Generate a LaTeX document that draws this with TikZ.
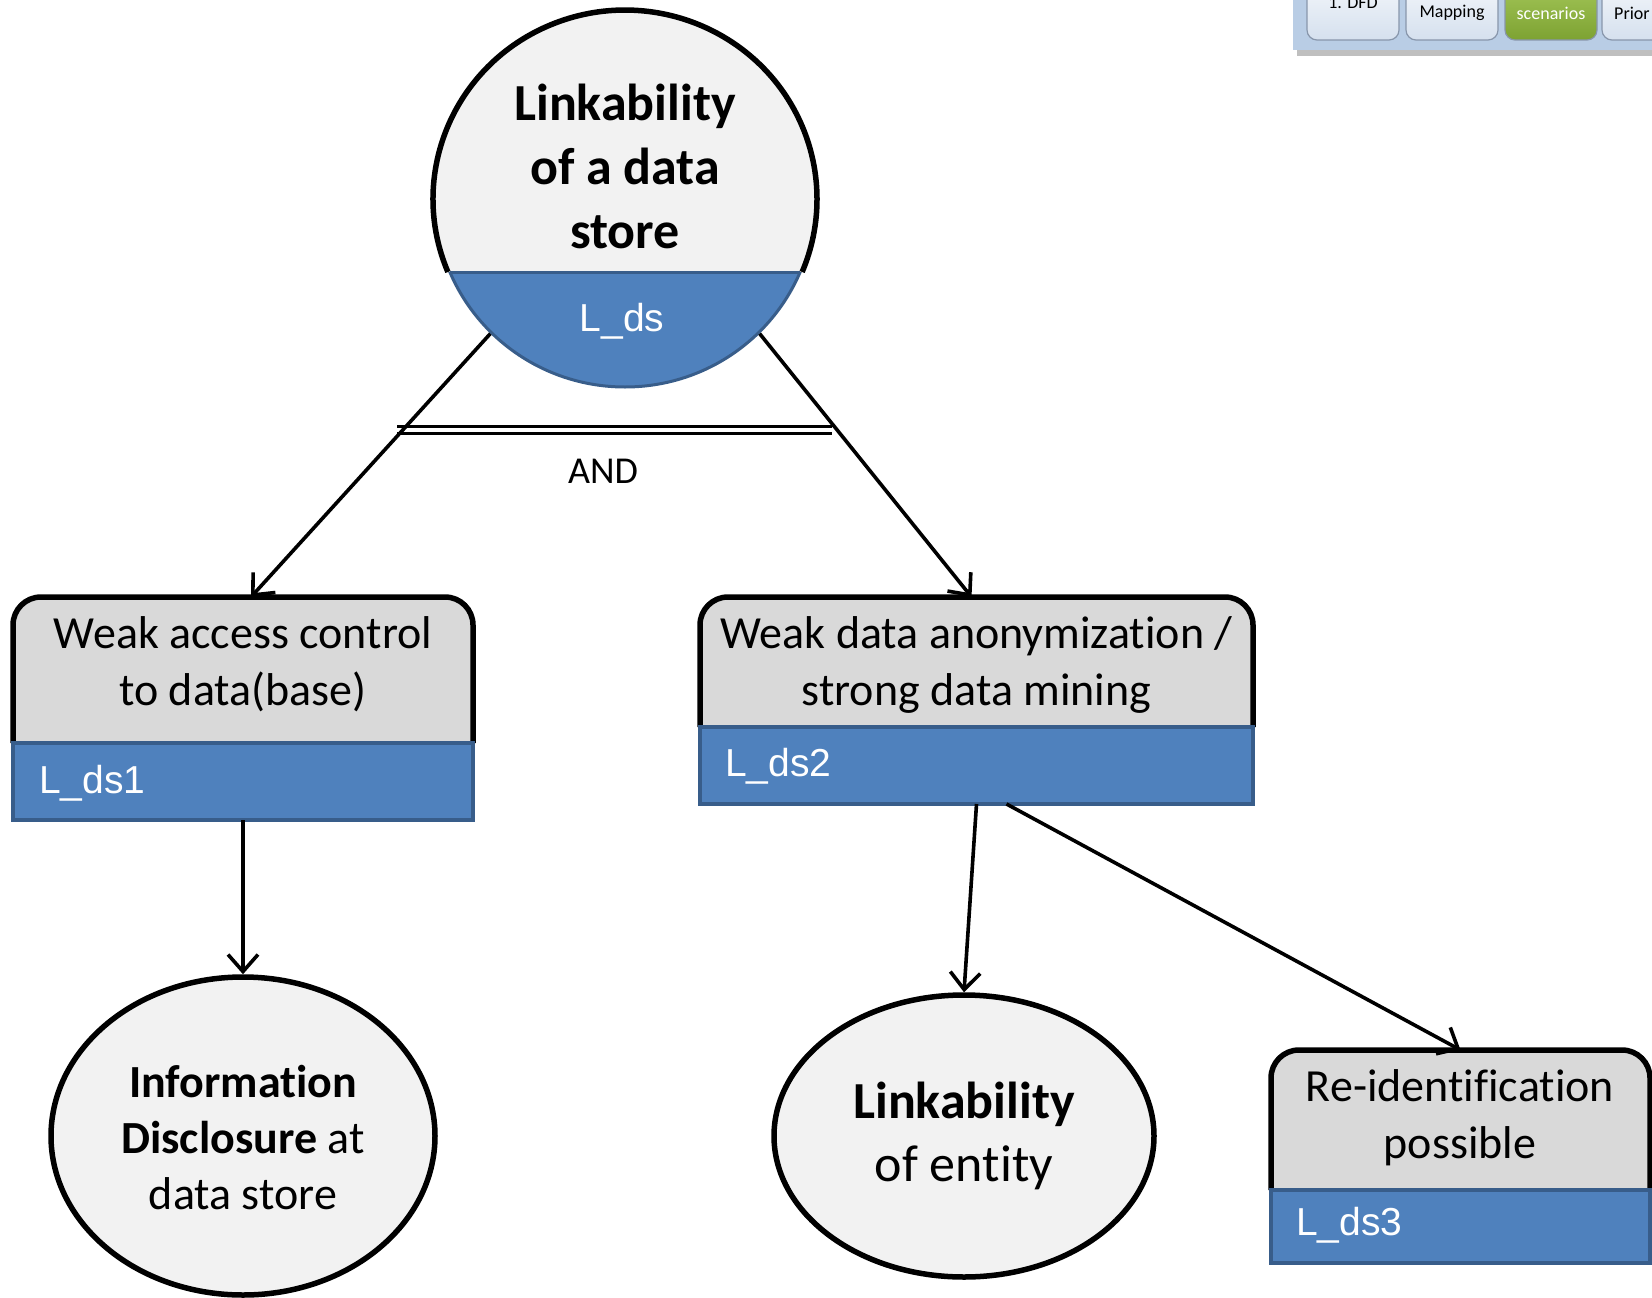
\documentclass[tikz,border=0pt]{standalone}
\usepackage{fontspec}
\setmainfont{Carlito}[Ligatures={NoCommon}]
\newfontfamily\arialf{Liberation Sans}
\usetikzlibrary{arrows.meta,calc,shapes.geometric}
\definecolor{boxgray}{HTML}{D9D9D9}
\definecolor{ellgray}{HTML}{F2F2F2}
\definecolor{lblue}{HTML}{4F81BD}
\definecolor{dblue}{HTML}{385D8A}
\definecolor{tabbar}{HTML}{B9CDE5}
\definecolor{tabtop}{HTML}{F4F7FB}
\definecolor{tabbot}{HTML}{D5E0EE}
\definecolor{tabedge}{HTML}{8896AB}
\definecolor{greentop}{HTML}{A5C85A}
\definecolor{greenbot}{HTML}{7DA232}
\tikzset{
  conn/.style={line width=3.6pt, -{Straight Barb[length=17pt,width=30pt]}},
  blk/.style={line width=5.5pt},
  bluepart/.style={fill=lblue, draw=dblue, line width=4pt},
  gtext/.style={font=\fontsize{46}{57}\selectfont, align=center, inner sep=0pt},
  ltext/.style={font=\arialf\fontsize{39}{46}\selectfont, text=white, inner sep=0pt},
  ell/.style={ellipse, draw, line width=5.5pt, fill=ellgray, inner sep=0pt},
  anchorbox/.style={rectangle, inner sep=0pt, outer sep=0pt},
  tab/.style={draw=tabedge, line width=1.2pt, top color=tabtop, bottom color=tabbot, rounded corners=10pt},
  tabtext/.style={font=\fontsize{18}{20}\selectfont, inner sep=0pt},
}
\begin{document}
\begin{tikzpicture}[x=1pt,y=-1pt]
\useasboundingbox (0,0) rectangle (1652,1298);
\clip (0,0) rectangle (1652,1298);

% ---------- tabs (top right) ----------
\fill[black!25] (1297,48) rectangle (1660,56);
\fill[tabbar] (1293,-10) rectangle (1660,50);
\draw[tab] (1307,-20) rectangle (1399,40);
\draw[tab] (1406,-20) rectangle (1498,40);
\draw[draw=tabedge, line width=1.2pt, top color=greentop, bottom color=greenbot, rounded corners=10pt] (1505,-20) rectangle (1597,40);
\draw[tab] (1602,-20) rectangle (1690,40);
\node[tabtext] (tab1) at (1353,3) {1. DFD};
\node[tabtext] (tab2) at (1452,13) {Mapping};
\node[tabtext, text=white] (tab3) at (1551,13) {scenarios};
\node[tabtext, anchor=west] (tab4) at (1614,13) {Prior};

% ---------- top circle ----------
\node[ellipse, minimum width=384pt, minimum height=378pt, inner sep=0pt, outer sep=0pt] (top) at (625,199) {};
\fill[ellgray] (625,199) ellipse [x radius=192, y radius=189];
\begin{scope}
  \clip (0,272) rectangle (1652,420);
  \filldraw[fill=lblue, draw=dblue, line width=3pt] (625,199) ellipse [x radius=190, y radius=188];
\end{scope}
\draw[dblue, line width=3pt] (450,272) -- (800,272);
\draw[blk] (447.9,272) arc[start angle=157.3, end angle=382.7, x radius=192, y radius=189];
\node[font=\bfseries\fontsize{52}{64}\selectfont, align=center, inner sep=0pt] (toptext) at (625,166) {Linkability\\of a data\\store};
\node[ltext] (toplbl) at (622,321) {L\_ds};

% ---------- AND bar ----------
\draw[line width=3pt] (397,426) -- (832,426);
\draw[line width=3pt] (397,433) -- (832,433);
\node[font=\fontsize{38}{44}\selectfont, inner sep=0pt] (andlbl) at (603,471) {AND};

% ---------- left box ----------
\node[anchorbox, minimum width=460pt, minimum height=223pt] (L) at (243,708.5) {};
\fill[boxgray] (13,743) [rounded corners=28pt]-- (13,597) -- (473,597) [sharp corners]-- (473,743) -- cycle;
\draw[blk] (13,743) [rounded corners=28pt]-- (13,597) -- (473,597) [sharp corners]-- (473,743);
\draw[bluepart] (13,743) rectangle (473,820);
\node[gtext] (Ltext) at (243,664.5) {Weak access control\\to data(base)};
\node[ltext, anchor=west] (Llbl) at (39,783) {L\_ds1};

% ---------- right box ----------
\node[anchorbox, minimum width=553pt, minimum height=207pt] (R) at (976.5,700.5) {};
\fill[boxgray] (700,727) [rounded corners=28pt]-- (700,597) -- (1253,597) [sharp corners]-- (1253,727) -- cycle;
\draw[blk] (700,727) [rounded corners=28pt]-- (700,597) -- (1253,597) [sharp corners]-- (1253,727);
\draw[bluepart] (700,727) rectangle (1253,804);
\node[gtext] (Rtext) at (976.5,664.5) {Weak data anonymization /\\strong data mining};
\node[ltext, anchor=west] (Rlbl) at (725,766) {L\_ds2};

% ---------- bottom right box ----------
\node[anchorbox, minimum width=379pt, minimum height=213pt] (B) at (1460.5,1156.5) {};
\fill[boxgray] (1271,1190) [rounded corners=28pt]-- (1271,1050) -- (1650,1050) [sharp corners]-- (1650,1190) -- cycle;
\draw[blk] (1271,1190) [rounded corners=28pt]-- (1271,1050) -- (1650,1050) [sharp corners]-- (1650,1190);
\draw[bluepart] (1271,1190) rectangle (1650,1263);
\node[gtext] (Btext) at (1460,1118) {Re-identification\\possible};
\node[ltext, anchor=west] (Blbl) at (1296,1225) {L\_ds3};

% ---------- bottom ellipses ----------
\node[ell, minimum width=384pt, minimum height=318pt] (E1) at (243,1136) {};
\node[font=\fontsize{46}{56}\selectfont, align=center, inner sep=0pt] (E1text) at (243,1138) {\textbf{Information}\\\textbf{Disclosure} at\\data store};
\node[ell, minimum width=380pt, minimum height=282pt] (E2) at (964,1136) {};
\node[font=\fontsize{52}{63}\selectfont, align=center, inner sep=0pt] (E2text) at (964,1135.5) {\textbf{Linkability}\\of entity};

% ---------- connectors ----------
\draw[conn] (top.225) -- ($(L.north)+(8,0)$);
\draw[conn] (top.315) -- ($(R.north)+(-5,0)$);
\draw[conn] (L.south) -- (E1.north);
\draw[conn] (R.south) -- (E2.north);
\draw[conn] ($(R.south)+(30,0)$) -- (B.north);
\end{tikzpicture}
\end{document}
